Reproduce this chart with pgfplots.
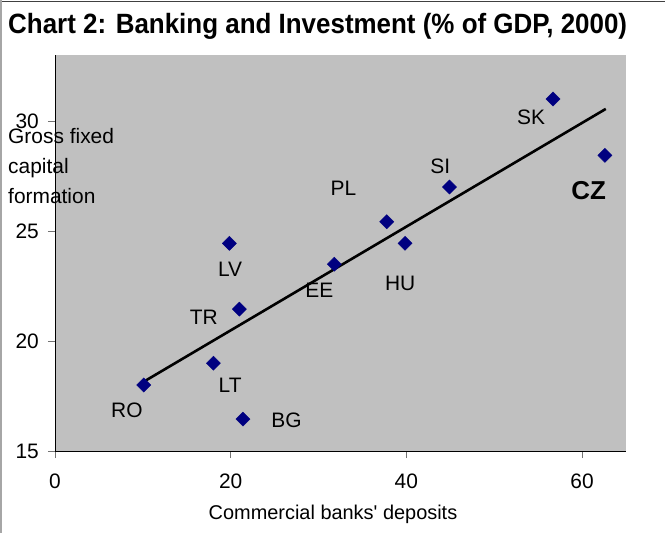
\documentclass[border=0pt]{standalone}
\usepackage{fontspec}
\setmainfont{Liberation Sans}
\usepackage{pgfplots}
\pgfplotsset{compat=1.18}
\definecolor{plotgrey}{HTML}{C0C0C0}
\definecolor{navymark}{HTML}{000080}
\begin{document}
\begin{tikzpicture}
\path[use as bounding box] (0,0) rectangle (665bp,-533bp);
\draw[color=black!75, line width=1.5bp] (0,-1.5bp) -- (665bp,-1.5bp);
\draw[color=black!35, line width=1.5bp] (1bp,0) -- (1bp,-533bp);
\node[anchor=base west, inner sep=0pt, font=\bfseries\fontsize{28}{32}\selectfont] at (8bp,-33.5bp) {\scalebox{0.93}[1]{Chart 2: Banking and Investment (\% of GDP, 2000)}};
\begin{axis}[
  at={(55bp,-451bp)}, anchor=south west,
  scale only axis, width=571bp, height=396bp,
  xmin=0, xmax=65, ymin=15, ymax=33,
  xtick={0,20,40,60}, ytick={15,20,25,30},
  axis lines*=left,
  axis line style={-, black, line width=1bp},
  axis background/.style={fill=plotgrey},
  tick align=outside, major tick length=7bp,
  every tick/.style={black!55, line width=1bp},
  /pgf/number format/assume math mode=true,
  ticklabel style={font=\fontsize{21}{25}\selectfont, inner sep=0pt},
  xticklabel style={anchor=north, yshift=-16bp},
  yticklabel style={anchor=east, xshift=-9bp},
  clip=false,
]
\addplot[only marks, mark=square*, mark size=5bp,
  mark options={rotate=45, fill=navymark, draw=navymark}] coordinates {
  (56.7,31.0) (62.6,28.44) (44.9,27.0) (37.77,25.42) (39.85,24.44)
  (31.8,23.49) (19.85,24.44) (20.99,21.45) (18.03,18.99) (10.1,18.0) (21.4,16.45)
};
\addplot[black, line width=2.6bp] coordinates {(10.1,18.15) (62.7,30.55)};
\begin{scope}[every node/.style={font=\fontsize{21}{25}\selectfont, inner sep=0pt}]
\node at (axis cs:54.2,30.18) {SK};
\node[font=\bfseries\fontsize{26}{30}\selectfont] at (axis cs:60.74,26.86) {CZ};
\node at (axis cs:43.86,27.95) {SI};
\node at (axis cs:32.84,26.95) {PL};
\node at (axis cs:39.3,22.6) {HU};
\node at (axis cs:30.1,22.3) {EE};
\node at (axis cs:19.94,23.25) {LV};
\node at (axis cs:16.93,21.09) {TR};
\node at (axis cs:19.94,18.0) {LT};
\node at (axis cs:8.18,16.86) {RO};
\node at (axis cs:26.36,16.41) {BG};
\end{scope}
\end{axis}
\node[anchor=base, inner sep=0pt, font=\fontsize{20}{24}\selectfont] at (333bp,-519bp) {Commercial banks\textquotesingle{} deposits};
\node[anchor=base west, inner sep=0pt, align=left, font=\fontsize{21}{30}\selectfont] at (8bp,-203bp) {Gross fixed\\capital\\formation};
\end{tikzpicture}
\end{document}
